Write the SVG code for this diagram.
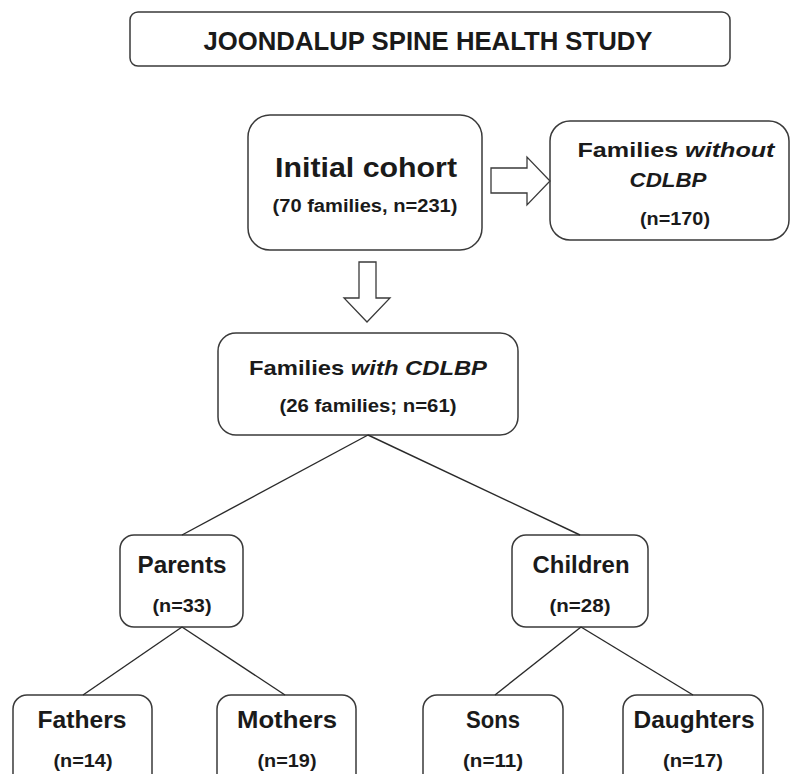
<svg xmlns="http://www.w3.org/2000/svg" width="791" height="774" viewBox="0 0 791 774">
<style>
.box{fill:#fff;stroke:#3a3a3a;stroke-width:1.5}
.blk{fill:#fff;stroke:#3a3a3a;stroke-width:1.3;stroke-linejoin:miter}
.ln{stroke:#2a2a2a;stroke-width:1.4;fill:none}
text{font-family:"Liberation Sans",Arial,sans-serif;font-weight:bold;fill:#1a1a1a;text-anchor:middle}
.t1{font-size:25px}
.big{font-size:28px}
.mid{font-size:21px}
.sm{font-size:18px}
.nd{font-size:24px}
.it{font-style:italic}
</style>
<rect width="791" height="774" fill="#fff"/>
<g id="title">
<rect class="box" x="130" y="12" width="600" height="54" rx="8"/>
<text class="t1" x="428" y="50" textLength="449" lengthAdjust="spacingAndGlyphs">JOONDALUP SPINE HEALTH STUDY</text>
</g>
<g id="initial-cohort">
<rect class="box" x="248" y="115" width="234" height="135" rx="22"/>
<text class="big" x="366" y="177" textLength="182" lengthAdjust="spacingAndGlyphs">Initial cohort</text>
<text class="sm" x="365" y="212" textLength="185" lengthAdjust="spacingAndGlyphs">(70 families, n=231)</text>
</g>
<g id="families-without">
<rect class="box" x="550" y="121" width="239" height="119" rx="20"/>
<text class="mid" x="676" y="157" textLength="197" lengthAdjust="spacingAndGlyphs">Families <tspan class="it">without</tspan></text>
<text class="mid it" x="668" y="187" textLength="77" lengthAdjust="spacingAndGlyphs">CDLBP</text>
<text class="sm" x="675" y="225" textLength="70" lengthAdjust="spacingAndGlyphs">(n=170)</text>
</g>
<g id="families-with">
<rect class="box" x="218" y="333" width="300" height="102" rx="18"/>
<text class="mid" x="368" y="375" textLength="238" lengthAdjust="spacingAndGlyphs">Families <tspan class="it">with CDLBP</tspan></text>
<text class="sm" x="368" y="412" textLength="177" lengthAdjust="spacingAndGlyphs">(26 families; n=61)</text>
</g>
<g id="parents">
<rect class="box" x="120" y="535" width="123" height="92" rx="14"/>
<text class="nd" x="182" y="573" textLength="89" lengthAdjust="spacingAndGlyphs">Parents</text>
<text class="sm" x="182" y="612" textLength="59" lengthAdjust="spacingAndGlyphs">(n=33)</text>
</g>
<g id="children">
<rect class="box" x="512" y="535" width="136" height="92" rx="14"/>
<text class="nd" x="581" y="573" textLength="97" lengthAdjust="spacingAndGlyphs">Children</text>
<text class="sm" x="580" y="612" textLength="61" lengthAdjust="spacingAndGlyphs">(n=28)</text>
</g>
<g id="fathers">
<rect class="box" x="13" y="695" width="139" height="95" rx="14"/>
<text class="nd" x="82" y="728" textLength="89" lengthAdjust="spacingAndGlyphs">Fathers</text>
<text class="sm" x="83" y="767" textLength="59" lengthAdjust="spacingAndGlyphs">(n=14)</text>
</g>
<g id="mothers">
<rect class="box" x="217" y="695" width="139" height="95" rx="14"/>
<text class="nd" x="287" y="728" textLength="100" lengthAdjust="spacingAndGlyphs">Mothers</text>
<text class="sm" x="287" y="767" textLength="59" lengthAdjust="spacingAndGlyphs">(n=19)</text>
</g>
<g id="sons">
<rect class="box" x="423" y="695" width="140" height="95" rx="14"/>
<text class="nd" x="493" y="728" textLength="54" lengthAdjust="spacingAndGlyphs">Sons</text>
<text class="sm" x="493" y="767" textLength="60" lengthAdjust="spacingAndGlyphs">(n=11)</text>
</g>
<g id="daughters">
<rect class="box" x="623" y="695" width="140" height="95" rx="14"/>
<text class="nd" x="694" y="728" textLength="121" lengthAdjust="spacingAndGlyphs">Daughters</text>
<text class="sm" x="693" y="767" textLength="60" lengthAdjust="spacingAndGlyphs">(n=17)</text>
</g>
<g id="connectors">
<polygon class="blk" points="491,168 527,168 527,157 550,181 527,205 527,193 491,193"/>
<polygon class="blk" points="359,262 376,262 376,298 390,298 367,322 344,298 359,298"/>
<line class="ln" x1="368" y1="435" x2="182" y2="535"/>
<line class="ln" x1="368" y1="435" x2="580" y2="535"/>
<line class="ln" x1="182" y1="627" x2="83" y2="695"/>
<line class="ln" x1="182" y1="627" x2="285" y2="695"/>
<line class="ln" x1="581" y1="627" x2="495" y2="695"/>
<line class="ln" x1="581" y1="627" x2="693" y2="695"/>
</g>
</svg>
